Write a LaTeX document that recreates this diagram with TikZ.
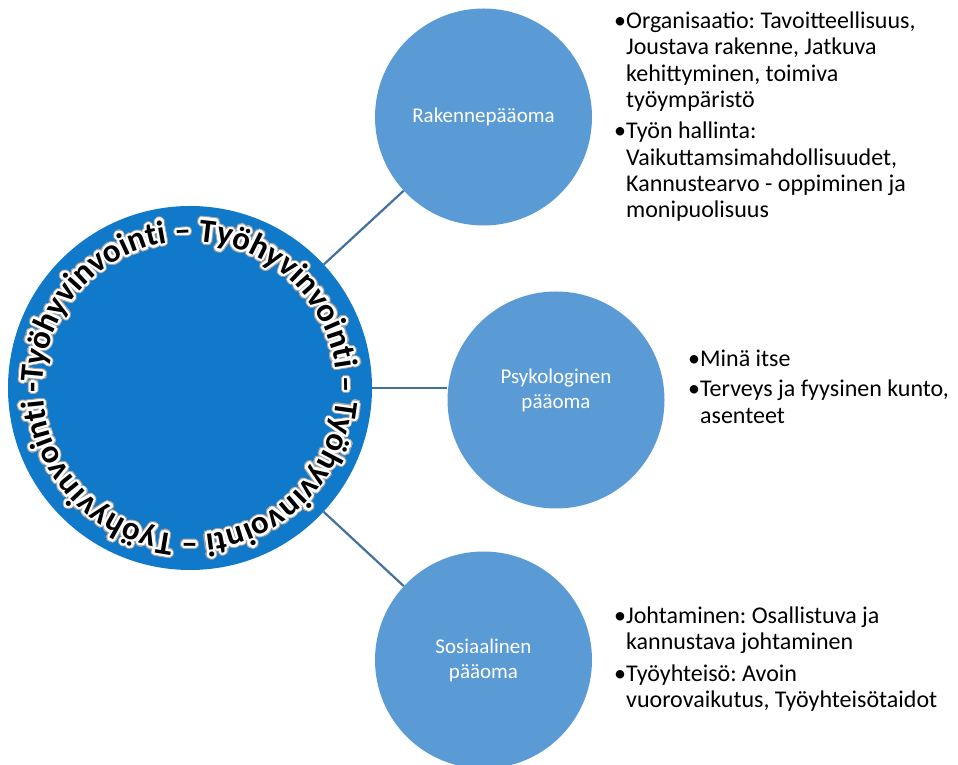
\documentclass[tikz,border=0pt]{standalone}
\usepackage{fontspec}
\setmainfont{Carlito}
\usetikzlibrary{decorations.text}
\definecolor{bigblue}{RGB}{16,121,202}
\definecolor{smallblue}{RGB}{91,155,213}
\definecolor{linkblue}{RGB}{65,113,156}
\newcommand{\ringfont}{\fontsize{33}{33}\selectfont\bfseries}
\begin{document}
\frenchspacing
\begin{tikzpicture}[x=1pt,y=1pt,
  hub/.style={circle, fill=bigblue, minimum size=364pt, inner sep=0pt},
  spoke/.style={circle, fill=smallblue, minimum size=217pt, inner sep=0pt, text=white, align=center, font=\fontsize{21}{25}\selectfont},
  spokelabel/.style={text=white, align=center, font=\fontsize{21}{25}\selectfont, inner sep=0pt},
  link/.style={draw=linkblue, line width=2.2pt},
  bullets/.style={anchor=north west, inner sep=0pt, font=\fontsize{24}{26.3}\selectfont, align=left},
  ringtext/.style={decorate, decoration={text along path, text align=fit to path, text color=#1,
      text={|\ringfont|Työhyvinvointi – Työhyvinvointi – Työhyvinvointi – Työhyvinvointi -}}}
]
\useasboundingbox (0,0) rectangle (958,765);

% nodes
\node[hub] (hub) at (190,377) {};
\node[spoke] (rak) at (483.5,648) {Rakennepääoma};
\node[spoke, label={[spokelabel, name=psyklbl, yshift=10pt]center:Psykologinen\\pääoma}] (psyk) at (556,365) {};
\node[spoke] (sos) at (483.5,105) {Sosiaalinen\\pääoma};

% connectors
\draw[link] (hub) -- (rak);
\draw[link] (hub.east) -- (psyk.west |- hub.east);
\draw[link] (hub) -- (sos);

% ring text with glow
\foreach \a in {0,22.5,...,337.5}{
  \path[ringtext=black!35, shift={(\a:3.4)}] (190,377) ++(178:147) arc[start angle=178, end angle=-182, radius=147];
}
\foreach \a in {0,22.5,...,337.5}{
  \path[ringtext=white, shift={(\a:2.3)}] (190,377) ++(178:147) arc[start angle=178, end angle=-182, radius=147];
}
\path[ringtext=black] (190,377) ++(178:147) arc[start angle=178, end angle=-182, radius=147];

% bullet texts
\node[bullets] (rb) at (614,755) {\begin{tabular}{@{}l@{}l@{}}•&Organisaatio: Tavoitteellisuus,\\&Joustava rakenne, Jatkuva\\&kehittyminen, toimiva\\&työympäristö\\[5pt]•&Työn hallinta:\\&Vaikuttamsimahdollisuudet,\\&Kannustearvo - oppiminen ja\\&monipuolisuus\end{tabular}};
\node[bullets] (pb) at (688,417) {\begin{tabular}{@{}l@{}l@{}}•&Minä itse\\[4pt]•&Terveys ja fyysinen kunto,\\&asenteet\end{tabular}};
\node[bullets] (sb) at (614,160) {\begin{tabular}{@{}l@{}l@{}}•&Johtaminen: Osallistuva ja\\&kannustava johtaminen\\[5pt]•&Työyhteisö: Avoin\\&vuorovaikutus, Työyhteisötaidot\end{tabular}};
\end{tikzpicture}
\end{document}
